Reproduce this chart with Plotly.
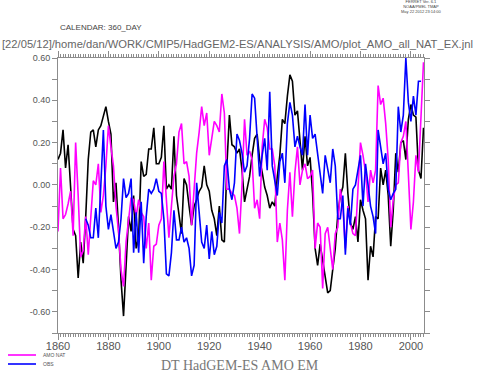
import plotly.graph_objects as go

# ---- data ----
years = list(range(1860, 2006))
obs_years = list(range(1871, 2005))

em_values = [
    0.12, 0.15, 0.26, 0.08, 0.19, 0.0, -0.21, -0.24, -0.44, -0.27,
    -0.37, -0.15, 0.12, 0.25, 0.26, 0.18, 0.26, 0.28, 0.33, 0.37,
    0.30, 0.24, -0.08, 0.01, -0.2, -0.45, -0.62, -0.35, -0.15, -0.22,
    -0.05, -0.3, -0.25, 0.11, 0.04, 0.05, 0.17, 0.17, 0.27, 0.1,
    0.1, 0.13, 0.28, -0.02, 0.0, -0.02, 0.23, -0.05, -0.15, -0.23,
    0.03, 0.0, -0.1, -0.19, -0.1, -0.07, -0.03, -0.01, 0.09, 0.0,
    -0.03, -0.12, -0.16, -0.24, -0.1, -0.26, -0.27, 0.09, 0.33, 0.19,
    0.18, 0.15, 0.17, 0.07, -0.08, -0.02, 0.04, 0.14, 0.22, 0.24,
    0.12, 0.06, -0.01, -0.05, -0.11, -0.08, -0.1, 0.04, 0.14, 0.31,
    0.29, 0.42, 0.52, 0.49, 0.33, 0.35, 0.2, 0.07, 0.23, 0.09,
    0.13, -0.04, -0.3, -0.38, -0.28, -0.36, -0.45, -0.51, -0.5, -0.41,
    -0.3, -0.14, -0.05, -0.01, 0.15, -0.04, -0.18, -0.21, -0.15, -0.27,
    -0.07, -0.12, -0.16, -0.45, -0.29, -0.34, -0.15, -0.16, 0.08, 0.0,
    0.07, -0.05, -0.29, -0.12, 0.15, 0.06, 0.2, 0.21, 0.12, 0.31,
    0.38, 0.33, 0.32, 0.07, 0.03, 0.27,
]

amo_nat_values = [
    -0.22, 0.08, -0.16, -0.14, -0.09, -0.03, -0.24, 0.2, -0.05, -0.34,
    -0.31, -0.15, -0.33, -0.15, 0.02, 0.0, 0.1, -0.13, -0.05, 0.09,
    0.28, 0.18, 0.09, -0.1, -0.22, -0.4, -0.48, -0.27, -0.15, -0.06,
    -0.07, -0.15, -0.07, -0.13, -0.15, -0.3, -0.18, -0.45, -0.29, -0.28,
    -0.19, -0.16, 0.11, -0.08, -0.25, -0.1, 0.04, 0.1, 0.25, 0.29,
    0.1, 0.11, 0.04, -0.19, -0.02, 0.15, 0.25, 0.37, 0.28, 0.34,
    0.14, 0.23, 0.3, 0.28, 0.25, 0.43, 0.34, -0.02, -0.02, -0.04,
    -0.05, -0.11, -0.23, 0.0, 0.31, 0.14, 0.16, 0.12, -0.11, -0.07,
    -0.16, 0.18, 0.31, 0.27, 0.17, 0.17, 0.09, -0.27, -0.18, -0.26,
    -0.45, -0.12, 0.06, -0.15, 0.06, 0.18, 0.0, 0.07, 0.1, 0.03,
    0.04, 0.07, -0.3, -0.18, -0.2, -0.49, -0.23, -0.2, -0.31, -0.4,
    -0.23, -0.2, -0.02, -0.1, -0.3, -0.1, -0.18, -0.23, -0.24, -0.02,
    0.2, 0.14, 0.06, -0.08, 0.07, 0.01, 0.07, 0.47, 0.38, 0.41,
    0.29, 0.12, -0.2, -0.07, 0.0, 0.01, 0.2, 0.23, 0.3, 0.05,
    -0.21, -0.08, 0.14, 0.06, 0.3, 0.58,
]

obs_values = [
    -0.16, -0.19, -0.25, -0.25, -0.11, -0.25, 0.0, 0.26, -0.1,
    -0.21, -0.14, -0.22, -0.3, -0.27, -0.16, 0.03, -0.06, -0.04, 0.03,
    -0.32, -0.13, -0.32, -0.08, -0.37, -0.15, -0.02, -0.04, -0.02, 0.03,
    -0.03, -0.04, -0.16, -0.42, -0.43, -0.32, -0.12, -0.26, -0.26, -0.2,
    -0.27, -0.25, -0.3, -0.43, -0.38, 0.01, -0.13, -0.27, -0.3, -0.19,
    -0.35, -0.22, -0.33, -0.29, -0.13, -0.18, 0.09, 0.12, -0.02, -0.07,
    0.01, 0.24, 0.21, 0.15, 0.06, 0.09, 0.22, 0.43, 0.41, 0.2,
    0.04, 0.14, 0.22, 0.07, 0.44, 0.09, 0.01, -0.05, 0.11, 0.15,
    0.01, 0.29, 0.39, 0.33, 0.18, 0.23, 0.18, 0.14, 0.38, 0.14,
    0.33, 0.22, 0.24, 0.14, 0.06, -0.04, 0.14, 0.07, 0.01, 0.17,
    0.09, -0.16, -0.16, -0.05, -0.33, -0.11, -0.19, -0.02, 0.0, 0.07,
    0.14, -0.1, 0.1, 0.0, -0.1, -0.15, -0.23, 0.26, 0.17, 0.1,
    0.15, -0.02, -0.07, -0.04, -0.02, 0.37, 0.25, 0.33, 0.6, 0.39,
    0.3, 0.42, 0.33, 0.49, 0.49,
]

x_tick_vals = [1860, 1880, 1900, 1920, 1940, 1960, 1980, 2000]
x_tick_text = ["1860", "1880", "1900", "1920", "1940", "1960", "1980", "2000"]
y_tick_vals = [-0.6, -0.4, -0.2, 0.0, 0.2, 0.4, 0.6]
y_tick_text = ["-0.60", "-0.40", "-0.20", "0.00", "0.20", "0.40", "0.60"]

legend_names = ["AMO_NAT", "OBS"]
legend_colors = ["#ff00ff", "#0000ff"]

title_text = "DT HadGEM-ES AMO EM"
path_text = "[22/05/12]/home/dan/WORK/CMIP5/HadGEM2-ES/ANALYSIS/AMO/plot_AMO_all_NAT_EX.jnl"
calendar_text = "CALENDAR: 360_DAY"
ferret_text = "FERRET Ver. 6.1<br>NOAA/PMEL TMAP<br>May 22 2012 23:14:00"

# ---- figure ----
W, H = 487, 374
ML, MR, MT, MB = 58, 63, 58, 41
PW, PH = W - ML - MR, H - MT - MB

fig = go.Figure()
fig.add_trace(go.Scatter(x=years, y=em_values, mode="lines",
                         line=dict(color="#000000", width=1.6), name="EM"))
fig.add_trace(go.Scatter(x=years, y=amo_nat_values, mode="lines",
                         line=dict(color="#ff00ff", width=1.6), name="AMO_NAT"))
fig.add_trace(go.Scatter(x=obs_years, y=obs_values, mode="lines",
                         line=dict(color="#0000ff", width=1.6), name="OBS"))

axis_col = "#8c8c8c"
fig.update_xaxes(range=[1860, 2005.2], tickmode="array", tickvals=x_tick_vals,
                 ticktext=x_tick_text, ticks="outside", ticklen=6, tickwidth=1,
                 tickcolor=axis_col, showline=True, linecolor=axis_col, linewidth=1,
                 mirror="ticks", showgrid=False, zeroline=False, ticklabelstandoff=-3,
                 tickfont=dict(family="Liberation Sans", size=11, color="#555555"),
                 minor=dict(dtick=1, tick0=1860, ticks="outside", ticklen=3,
                            tickcolor=axis_col, showgrid=False))
fig.update_yaxes(range=[-0.7, 0.6], tickmode="array", tickvals=y_tick_vals,
                 ticktext=y_tick_text, ticks="outside", ticklen=5, tickwidth=1,
                 tickcolor=axis_col, showline=True, linecolor=axis_col, linewidth=1,
                 mirror="ticks", showgrid=False, zeroline=False,
                 tickfont=dict(family="Liberation Sans", size=9, color="#555555"),
                 minor=dict(dtick=0.1, tick0=0, ticks="outside", ticklen=5,
                            tickcolor=axis_col, showgrid=False))

def px_x(px):
    return (px - ML) / PW

def px_y(py):
    return (H - MB - py) / PH

annotations = [
    dict(text=calendar_text, x=px_x(58), y=px_y(28), xanchor="left", yanchor="middle",
         font=dict(family="Liberation Sans", size=8, color="#444444")),
    dict(text=path_text, x=px_x(0), y=px_y(44), xanchor="left", yanchor="middle",
         font=dict(family="Liberation Sans", size=11.2, color="#666666")),
    dict(text=ferret_text, x=px_x(421), y=px_y(7), xanchor="center", yanchor="middle",
         font=dict(family="Liberation Sans", size=4, color="#444444")),
    dict(text=title_text, x=px_x(240), y=px_y(365), xanchor="center", yanchor="middle",
         font=dict(family="Liberation Serif", size=14, color="#777777")),
]
shapes = []
for i, (name, col) in enumerate(zip(legend_names, legend_colors)):
    py = 355 + 9 * i
    shapes.append(dict(type="line", xref="paper", yref="paper",
                       x0=px_x(8), x1=px_x(36), y0=px_y(py), y1=px_y(py),
                       line=dict(color=col, width=1.6)))
    annotations.append(dict(text=name.replace("_", " "), x=px_x(41), y=px_y(py), xanchor="left",
                            yanchor="middle",
                            font=dict(family="Liberation Sans", size=5, color="#555555")))

for a in annotations:
    a.update(xref="paper", yref="paper", showarrow=False)

fig.update_layout(width=W, height=H, margin=dict(l=ML, r=MR, t=MT, b=MB),
                  paper_bgcolor="white", plot_bgcolor="white", showlegend=False,
                  annotations=annotations, shapes=shapes)

fig.write_html("out.html", config={"displayModeBar": False},
               post_script="document.body.style.margin='0';document.body.style.padding='0';")
